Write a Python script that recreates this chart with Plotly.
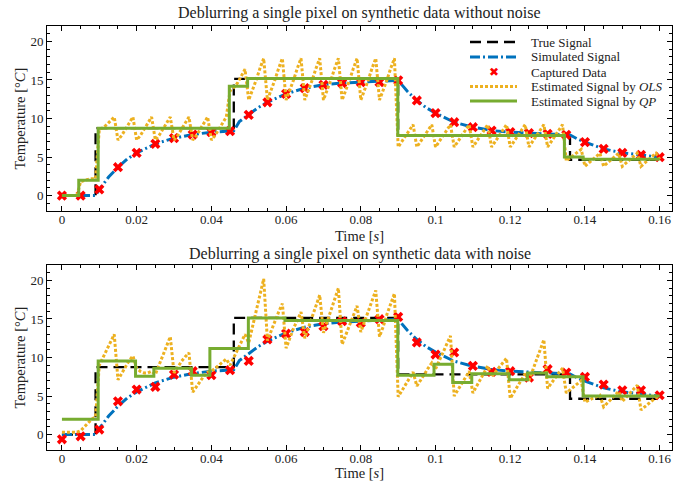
import plotly.graph_objects as go
from plotly.subplots import make_subplots

# ---------------- data ----------------
true_t = [0.0, 0.009, 0.009, 0.046, 0.046, 0.090, 0.090, 0.136, 0.136, 0.160]
true_v = [0.0, 0.0, 8.75, 8.75, 15.15, 15.15, 7.8, 7.8, 4.65, 4.65]

sim_t = [0.0, 0.005, 0.009, 0.010, 0.0125, 0.015, 0.0175, 0.020, 0.025, 0.030, 0.035, 0.040, 0.045, 0.046,
         0.0475, 0.050, 0.0525, 0.055, 0.060, 0.065, 0.070, 0.075, 0.080, 0.085, 0.090,
         0.0925, 0.095, 0.0975, 0.100, 0.105, 0.110, 0.115, 0.120, 0.125, 0.130, 0.135, 0.136,
         0.138, 0.140, 0.145, 0.150, 0.155, 0.160]
sim_v = [0.0, 0.0, 0.0, 0.8, 2.4, 3.68, 4.75, 5.54, 6.71, 7.45, 7.92, 8.23, 8.36, 8.4,
         9.6, 10.47, 11.4, 12.1, 13.2, 13.94, 14.37, 14.6, 14.75, 14.85, 14.94,
         13.5, 12.34, 11.4, 10.7, 9.52, 8.87, 8.44, 8.23, 8.1, 8.01, 7.88, 7.86,
         7.35, 6.93, 6.06, 5.54, 5.28, 4.98]

cap_t = [0.000, 0.005, 0.010, 0.015, 0.020, 0.025, 0.030, 0.035, 0.040, 0.045, 0.050,
         0.055, 0.060, 0.065, 0.070, 0.075, 0.080, 0.085, 0.090, 0.095, 0.100, 0.105,
         0.110, 0.115, 0.120, 0.125, 0.130, 0.135, 0.140, 0.145, 0.150, 0.155, 0.160]
cap_clean = [0.0, 0.0, 0.8, 3.68, 5.54, 6.71, 7.45, 7.92, 8.23, 8.36, 10.47,
             12.1, 13.2, 13.94, 14.37, 14.6, 14.7, 14.7, 14.94, 12.34, 10.7, 9.52,
             8.87, 8.44, 8.23, 8.1, 8.01, 7.88, 6.93, 6.06, 5.54, 5.28, 4.98]
cap_noisy = [-0.61, -0.22, 0.65, 4.32, 5.84, 6.19, 7.79, 8.22, 7.7, 8.35, 9.56,
             12.34, 13.1, 13.3, 14.06, 14.7, 14.5, 14.97, 15.27, 11.95, 10.38, 10.65,
             8.91, 8.13, 8.22, 7.4, 8.48, 8.05, 7.48, 6.49, 5.75, 5.75, 5.1]

ols_t = [i / 1000 for i in range(161)]
ols_clean = [
    0.0, 0.0, 0.0, 0.0, 0.0,
    1.8, 2.0, 2.1, 2.2, 2.2,
    8.6, 8.8, 9.2, 9.7, 10.2,
    7.2, 7.8, 8.6, 9.4, 10.2,
    7.2, 7.8, 8.6, 9.4, 10.2,
    7.2, 7.8, 8.6, 9.4, 10.2,
    7.2, 7.8, 8.6, 9.4, 10.2,
    7.2, 7.8, 8.6, 9.4, 10.2,
    7.2, 7.8, 8.6, 9.4, 10.2,
    13.6, 14.0, 14.6, 15.5, 16.4,
    12.4, 13.6, 15.0, 16.5, 17.8,
    12.4, 13.6, 15.0, 16.5, 17.8,
    12.4, 13.6, 15.0, 16.5, 17.8,
    12.4, 13.6, 15.0, 16.5, 17.8,
    12.4, 13.6, 15.0, 16.5, 17.8,
    12.4, 13.6, 15.0, 16.5, 17.8,
    12.4, 13.6, 15.0, 16.5, 17.8,
    12.4, 13.6, 15.0, 16.5, 17.8,
    6.3, 7.0, 7.8, 8.5, 9.2,
    6.3, 7.0, 7.8, 8.5, 9.2,
    6.3, 7.0, 7.8, 8.5, 9.2,
    6.3, 7.0, 7.8, 8.5, 9.2,
    6.3, 7.0, 7.8, 8.5, 9.2,
    6.3, 7.0, 7.8, 8.5, 9.2,
    6.3, 7.0, 7.8, 8.5, 9.2,
    6.3, 7.0, 7.8, 8.5, 9.2,
    6.3, 7.0, 7.8, 8.5, 9.2,
    4.5, 4.9, 5.3, 5.6, 6.0,
    3.8, 4.2, 4.7, 5.1, 5.5,
    3.8, 4.2, 4.7, 5.1, 5.5,
    3.8, 4.2, 4.7, 5.1, 5.5,
    3.8, 4.2, 4.7, 5.1, 5.5,
    4.7,
]
ols_noisy = [
    0.3, 0.3, 0.3, 0.3, 0.3,
    0.5, 1.0, 1.6, 2.0, 2.3,
    9.0, 10.0, 11.0, 12.2, 13.0,
    7.1, 8.0, 8.8, 9.6, 10.2,
    8.6, 8.2, 8.0, 8.0, 8.2,
    7.8, 9.0, 10.3, 11.6, 12.7,
    8.0, 8.8, 9.5, 10.1, 10.6,
    5.5, 6.2, 7.0, 7.6, 8.1,
    8.2, 8.6, 9.0, 9.4, 9.8,
    9.0, 10.0, 11.0, 12.0, 13.0,
    11.9, 14.0, 16.0, 18.2, 20.2,
    12.2, 13.5, 14.8, 15.9, 17.0,
    11.2, 12.5, 13.8, 14.8, 15.9,
    12.5, 13.9, 15.3, 16.7, 18.1,
    13.2, 14.6, 16.0, 17.5, 19.0,
    11.7, 13.0, 14.3, 15.5, 16.7,
    13.3, 14.6, 16.0, 17.4, 18.7,
    12.7, 14.0, 15.6, 17.0, 18.3,
    4.9, 5.7, 6.6, 7.4, 8.1,
    6.3, 7.0, 7.8, 8.6, 9.3,
    8.5, 9.6, 10.6, 11.7, 12.8,
    5.0, 5.8, 6.6, 7.4, 8.2,
    5.4, 6.3, 7.1, 8.0, 8.9,
    7.5, 8.1, 8.7, 9.3, 9.9,
    4.7, 5.5, 6.3, 7.1, 7.9,
    7.0, 8.3, 9.6, 11.0, 12.3,
    6.0, 6.7, 7.4, 8.0, 8.6,
    5.4, 5.8, 6.2, 6.6, 7.0,
    4.2, 4.5, 4.7, 4.9, 5.1,
    3.6, 4.1, 4.6, 5.1, 5.6,
    4.3, 4.8, 5.4, 5.9, 6.4,
    3.2, 3.6, 4.0, 4.4, 4.8,
    4.9,
]

qp_clean_t = [0.0, 0.0045, 0.0045, 0.0097, 0.0097, 0.0448, 0.0448, 0.0497, 0.0497, 0.0899, 0.0899,
              0.1345, 0.1345, 0.1395, 0.1395, 0.160]
qp_clean_v = [0.0, 0.0, 2.0, 2.0, 8.75, 8.75, 14.2, 14.2, 15.2, 15.2, 7.8,
              7.8, 5.0, 5.0, 4.7, 4.7]
qp_noisy_t = [0.0, 0.0097, 0.0097, 0.0197, 0.0197, 0.0246, 0.0246, 0.0347, 0.0347, 0.0396, 0.0396,
              0.0499, 0.0499, 0.0597, 0.0597, 0.0899, 0.0899, 0.0996, 0.0996, 0.1046, 0.1046,
              0.1097, 0.1097, 0.1197, 0.1197, 0.1246, 0.1246, 0.1298, 0.1298, 0.1395, 0.1395, 0.160]
qp_noisy_v = [2.0, 2.0, 9.56, 9.56, 7.57, 7.57, 8.6, 8.6, 7.7, 7.7, 11.17,
              11.17, 15.14, 15.14, 14.8, 14.8, 7.7, 7.7, 9.13, 9.13, 6.75,
              6.75, 7.9, 7.9, 7.1, 7.1, 8.0, 8.0, 7.5, 7.5, 5.0, 5.0]

x_tick_vals = [0, 0.02, 0.04, 0.06, 0.08, 0.1, 0.12, 0.14, 0.16]
x_tick_text = ["0", "0.02", "0.04", "0.06", "0.08", "0.1", "0.12", "0.14", "0.16"]
y_tick_vals = [0, 5, 10, 15, 20]
y_tick_text = ["0", "5", "10", "15", "20"]

titles = ["Deblurring a single pixel on synthetic data without noise",
          "Deblurring a single pixel on synthetic data with noise"]
names = ["True Signal", "Simulated Signal", "Captured Data",
         "Estimated Signal by <i>OLS</i>", "Estimated Signal by <i>QP</i>"]

# ---------------- style ----------------
FONT = "Liberation Serif, Times New Roman, serif"
TXT = "#222222"
C_TRUE = "black"
C_SIM = "#0072BD"
C_CAP = "#FF0000"
C_OLS = "#EDB120"
C_QP = "#77AC30"
DASH_TRUE = "11px,6px"
DASH_SIM = "10px,3px,2px,3px"
DASH_OLS = "3px,2px"

W, H = 681, 483
ML, MR, MT, MB = 47, 9, 26, 33
PW, PH = W - ML - MR, H - MT - MB


def px(X):
    return (X - ML) / PW


def py(Y):
    return (H - MB - Y) / PH


fig = make_subplots(rows=2, cols=1, vertical_spacing=(265 - 211) / PH)

panels = [(cap_clean, ols_clean, qp_clean_t, qp_clean_v),
          (cap_noisy, ols_noisy, qp_noisy_t, qp_noisy_v)]
for r, (cap, ols, qt, qv) in enumerate(panels, start=1):
    fig.add_trace(go.Scatter(x=true_t, y=true_v, mode="lines", name=names[0], showlegend=False,
                             line=dict(color=C_TRUE, width=2.3, dash=DASH_TRUE)), row=r, col=1)
    fig.add_trace(go.Scatter(x=sim_t, y=sim_v, mode="lines", name=names[1], showlegend=False,
                             line=dict(color=C_SIM, width=3, dash=DASH_SIM)), row=r, col=1)
    fig.add_trace(go.Scatter(x=cap_t, y=cap, mode="markers", name=names[2], showlegend=False,
                             marker=dict(symbol="x", size=9, color=C_CAP,
                                         line=dict(width=0))), row=r, col=1)
    fig.add_trace(go.Scatter(x=ols_t, y=ols, mode="lines", name=names[3], showlegend=False,
                             line=dict(color=C_OLS, width=3, dash=DASH_OLS)), row=r, col=1)
    fig.add_trace(go.Scatter(x=qt, y=qv, mode="lines", name=names[4], showlegend=False,
                             line=dict(color=C_QP, width=3)), row=r, col=1)

axis_common = dict(showline=True, linecolor="black", linewidth=1, mirror="allticks",
                   ticks="inside", ticklen=5, tickwidth=1, tickcolor="black",
                   showgrid=False, zeroline=False, automargin=False,
                   tickfont=dict(family=FONT, size=13, color=TXT))
for r in (1, 2):
    fig.update_xaxes(range=[-0.004, 0.1633], tickvals=x_tick_vals, ticktext=x_tick_text,
                     ticklabelstandoff=-4,
                     minor=dict(dtick=0.005, tick0=0, ticks="inside", ticklen=3,
                                tickcolor="black", showgrid=False),
                     row=r, col=1, **axis_common)
    fig.update_yaxes(range=[-2, 22], tickvals=y_tick_vals, ticktext=y_tick_text,
                     minor=dict(dtick=1, tick0=0, ticks="inside", ticklen=3,
                                tickcolor="black", showgrid=False),
                     row=r, col=1, **axis_common)

fig.update_layout(
    width=W, height=H,
    margin=dict(l=ML, r=MR, t=MT, b=MB),
    plot_bgcolor="white", paper_bgcolor="white",
    font=dict(family=FONT, size=13, color=TXT),
    showlegend=False,
)

# ---- titles / axis titles ----
TF = dict(family=FONT, size=16, color=TXT)
AF = dict(family=FONT, size=14.5, color=TXT)
ann = [
    dict(text=titles[0], x=px(359.5), y=py(13), showarrow=False, font=TF,
         xanchor="center", yanchor="middle"),
    dict(text=titles[1], x=px(359.5), y=py(254), showarrow=False, font=TF,
         xanchor="center", yanchor="middle"),
    dict(text="Time [<i>s</i>]", x=px(359.5), y=py(236), showarrow=False, font=AF,
         xanchor="center", yanchor="middle"),
    dict(text="Time [<i>s</i>]", x=px(359.5), y=py(483), showarrow=False, font=AF,
         xanchor="center", yanchor="bottom"),
    dict(text="Temperature [°<i>C</i>]", x=px(19), y=py(118.5), showarrow=False,
         textangle=-90, font=AF, xanchor="center", yanchor="middle"),
    dict(text="Temperature [°<i>C</i>]", x=px(19), y=py(357.5), showarrow=False,
         textangle=-90, font=AF, xanchor="center", yanchor="middle"),
]

# ---- legend (drawn as a key inside the top panel) ----
LX0, LX1, LTX = 470, 517, 529
ly = [42, 57, 72, 86.5, 101]
LF = dict(family=FONT, size=13, color=TXT)
shapes = []
key_styles = [(C_TRUE, 2.3, DASH_TRUE), (C_SIM, 3, DASH_SIM), None,
              (C_OLS, 3, DASH_OLS), (C_QP, 3, "solid")]
for i, st in enumerate(key_styles):
    if st is not None:
        shapes.append(dict(type="line", xref="paper", yref="paper",
                           x0=px(LX0), x1=px(LX1), y0=py(ly[i]), y1=py(ly[i]),
                           line=dict(color=st[0], width=st[1], dash=st[2])))
    ann.append(dict(text=names[i], x=px(LTX), y=py(ly[i]), showarrow=False, font=LF,
                    xanchor="left", yanchor="middle"))
ann.append(dict(text="✖", x=px((LX0 + LX1) / 2), y=py(ly[2]), showarrow=False,
                font=dict(family="DejaVu Sans", size=12, color=C_CAP),
                xanchor="center", yanchor="middle"))

for a in ann:
    a.setdefault("xref", "paper")
    a.setdefault("yref", "paper")
fig.update_layout(annotations=ann, shapes=shapes)

fig.write_html("out.html", config={"displayModeBar": False},
               post_script="document.body.style.margin='0px';")
